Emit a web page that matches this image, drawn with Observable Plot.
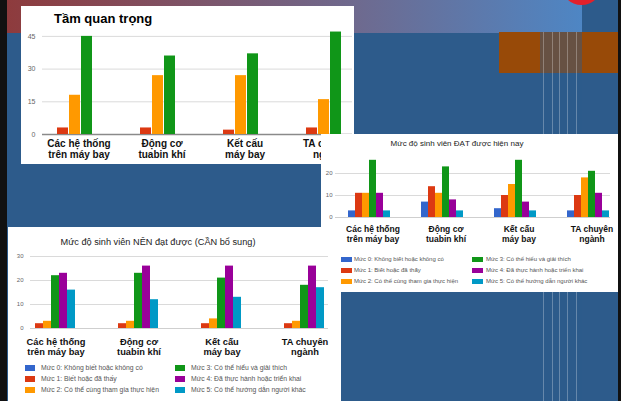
<!DOCTYPE html>
<html lang="vi">
<head>
<meta charset="utf-8">
<script src="https://cdn.jsdelivr.net/npm/d3@7"></script>
<script src="https://cdn.jsdelivr.net/npm/@observablehq/plot@0.6"></script>
<style>
  html,body{margin:0;padding:0}
  body{width:621px;height:401px;overflow:hidden;position:relative;background:#2d5b8b;font-family:Arial,"Liberation Sans",sans-serif}
  .abs{position:absolute}
  .panel{position:absolute;background:#fff;overflow:hidden}
  .panel svg{position:absolute;left:0;top:0}
  .title{position:absolute;white-space:nowrap;line-height:1}
  .legtxt{position:absolute;white-space:nowrap;color:#555;line-height:1;transform:translateY(-50%)}
  .sw{position:absolute}
</style>
</head>
<body>
<div class="abs" style="left:0;top:0;width:7px;height:401px;background:#111"></div>
<div class="abs" style="left:7px;top:0;width:575px;height:33px;background:linear-gradient(to right,#8e3b3d 0%,#6e6a8f 61%,#4e86c4 100%)"></div>
<div class="abs" style="left:499px;top:32px;width:122px;height:41px;background:#984a08"></div>
<div class="abs" style="left:540px;top:32px;width:42px;height:369px;background:rgba(45,91,139,0.45)"></div>
<div class="abs" style="left:543px;top:32px;width:1px;height:369px;background:rgba(255,255,255,0.28)"></div>
<div class="abs" style="left:552px;top:32px;width:1px;height:369px;background:rgba(255,255,255,0.28)"></div>
<div class="abs" style="left:559px;top:32px;width:1px;height:369px;background:rgba(255,255,255,0.28)"></div>
<div class="abs" style="left:567px;top:32px;width:1px;height:369px;background:rgba(255,255,255,0.28)"></div>
<div class="abs" style="left:576px;top:32px;width:1px;height:369px;background:rgba(255,255,255,0.28)"></div>
<div class="abs" style="left:561px;top:-36px;width:41px;height:41px;border-radius:50%;background:#e3212b"></div>
<div id="c1" class="panel" style="left:21px;top:6px;width:333px;height:158px"></div>
<div id="c2" class="panel" style="left:321px;top:134px;width:297px;height:158px"></div>
<div id="c3" class="panel" style="left:8px;top:227px;width:333px;height:174px"></div>
<div class="abs" style="left:618px;top:0;width:3px;height:401px;background:#111"></div>
<script>
// ---- data ----
const categories = ["Các hệ thống\ntrên máy bay", "Động cơ\ntuabin khí", "Kết cấu\nmáy bay", "TA chuyên\nngành"];
const levels = [
  "Mức 0: Không biết hoặc không có",
  "Mức 1: Biết hoặc đã thấy",
  "Mức 2: Có thể cùng tham gia thực hiện",
  "Mức 3: Có thể hiểu và giải thích",
  "Mức 4: Đã thực hành hoặc triển khai",
  "Mức 5: Có thể hướng dẫn người khác"
];
const levelColors = ["#3366cc", "#dc3912", "#ff9900", "#109618", "#990099", "#0099c6"];

// Chart 1: Tầm quan trọng (Mức 1, 2, 3)
const importanceTitle = "Tầm quan trọng";
const importanceLevel1 = [3, 3, 2, 3];
const importanceLevel2 = [18, 27, 27, 16];
const importanceLevel3 = [45, 36, 37, 47];
const importanceTicks = [0, 15, 30, 45];

// Chart 2: Mức độ sinh viên ĐẠT được hiện nay
const achievedTitle = "Mức độ sinh viên ĐẠT được hiện nay";
const achievedLevel0 = [3, 7, 4, 3];
const achievedLevel1 = [11, 14, 10, 10];
const achievedLevel2 = [11, 11, 15, 18];
const achievedLevel3 = [26, 23, 26, 21];
const achievedLevel4 = [11, 8, 7, 11];
const achievedLevel5 = [3, 3, 3, 3];
const achievedTicks = [0, 10, 20];

// Chart 3: Mức độ sinh viên NÊN đạt được (CẦN bổ sung)
const neededTitle = "Mức độ sinh viên NÊN đạt được (CẦN bổ sung)";
const neededLevel0 = [0, 0, 0, 0];
const neededLevel1 = [2, 2, 2, 2];
const neededLevel2 = [3, 3, 4, 3];
const neededLevel3 = [22, 23, 21, 18];
const neededLevel4 = [23, 26, 26, 26];
const neededLevel5 = [16, 12, 13, 17];
const neededTicks = [0, 10, 20, 30];

const FONT = "Arial, 'Liberation Sans', sans-serif";

function drawChart(id, o) {
  const panel = document.getElementById(id);
  const W = o.width, H = o.height;
  const grid = Plot.plot({
    width: W, height: H,
    marginTop: o.top, marginBottom: H - o.zero, marginLeft: o.gridLeft, marginRight: W - o.gridRight,
    y: {domain: o.yDomain},
    style: {background: "none", maxWidth: "none", fontFamily: FONT, color: "#666", overflow: "visible"},
    marks: [
      Plot.gridY(o.ticks, {stroke: "#dadada", strokeOpacity: 1}),
      Plot.axisY(o.ticks, {tickSize: 0, tickPadding: o.tickPad, fontSize: o.tickFont, label: null}),
      Plot.ruleY([0], {stroke: o.baseColor, strokeWidth: o.baseWidth})
    ]
  });
  panel.appendChild(grid);
  const names = o.levelIdx.map(i => levels[i]);
  const data = [];
  categories.forEach((c, i) => o.series.forEach((vals, k) => data.push({category: c, level: names[k], value: vals[i]})));
  const bars = Plot.plot({
    width: o.barsWidth, height: H,
    marginTop: o.top, marginBottom: H - o.zero, marginLeft: o.barsLeft, marginRight: 0,
    fx: {domain: categories, padding: 0},
    x: {domain: names, paddingInner: o.padIn, paddingOuter: o.padOut, axis: null},
    y: {domain: o.yDomain, axis: null},
    color: {domain: levels, range: levelColors},
    style: {background: "none", maxWidth: "none", fontFamily: FONT, color: "#111", overflow: "visible"},
    marks: [
      Plot.barY(data, {fx: "category", x: "level", y: "value", fill: "level"}),
      Plot.axisFx({anchor: "bottom", tickSize: 0, tickPadding: o.labelPad, fontSize: o.labelFont, fontWeight: "bold", fill: "#111", lineHeight: o.lineHeight, dx: o.labelDx, label: null})
    ]
  });
  panel.appendChild(bars);
  // title
  const t = document.createElement("div");
  t.className = "title";
  t.textContent = o.title;
  t.style.fontSize = o.titleFont + "px";
  t.style.fontWeight = o.titleWeight;
  t.style.color = o.titleColor;
  t.style.top = o.titleY + "px";
  t.style.left = o.titleX + "px";
  t.style.transform = o.titleCenter ? "translate(-50%,-50%)" : "translateY(-50%)";
  panel.appendChild(t);
  // legend
  if (o.legend) {
    const L = o.legend;
    levels.forEach((name, i) => {
      const col = Math.floor(i / 3), row = i % 3;
      const sw = document.createElement("div");
      sw.className = "sw";
      sw.style.left = L.swX[col] + "px";
      sw.style.top = (L.rowY[row] - L.swH / 2) + "px";
      sw.style.width = L.swW + "px";
      sw.style.height = L.swH + "px";
      sw.style.background = levelColors[i];
      panel.appendChild(sw);
      const tx = document.createElement("div");
      tx.className = "legtxt";
      tx.textContent = name;
      tx.style.left = L.txX[col] + "px";
      tx.style.top = L.rowY[row] + "px";
      tx.style.fontSize = L.font + "px";
      panel.appendChild(tx);
    });
  }
}

drawChart("c1", {
  width: 333, height: 158, top: 19, zero: 128, yDomain: [0, 50], ticks: importanceTicks,
  gridLeft: 21, gridRight: 331, tickPad: 7, tickFont: 7, baseColor: "#8a8a8a", baseWidth: 1.5,
  barsWidth: 345, barsLeft: 11, padIn: 0.08, padOut: 1.75,
  levelIdx: [1, 2, 3], series: [importanceLevel1, importanceLevel2, importanceLevel3],
  labelPad: 5, labelFont: 10, lineHeight: 1.1, labelDx: 4,
  title: importanceTitle, titleFont: 13, titleWeight: "bold", titleColor: "#000", titleX: 33, titleY: 12, titleCenter: false
});

drawChart("c2", {
  width: 297, height: 158, top: 17, zero: 83, yDomain: [0, 30], ticks: achievedTicks,
  gridLeft: 14, gridRight: 289, tickPad: 3, tickFont: 6, baseColor: "#cfcfcf", baseWidth: 1,
  barsWidth: 304, barsLeft: 9, padIn: 0.06, padOut: 2.0,
  levelIdx: [0, 1, 2, 3, 4, 5], series: [achievedLevel0, achievedLevel1, achievedLevel2, achievedLevel3, achievedLevel4, achievedLevel5],
  labelPad: 8, labelFont: 8.5, lineHeight: 1.15, labelDx: 4,
  title: achievedTitle, titleFont: 8, titleWeight: "normal", titleColor: "#222", titleX: 136, titleY: 10, titleCenter: true,
  legend: {swX: [20, 151], txX: [33, 165], rowY: [125, 136, 147], swW: 11, swH: 5, font: 6}
});

drawChart("c3", {
  width: 333, height: 174, top: 29, zero: 101, yDomain: [0, 30], ticks: neededTicks,
  gridLeft: 22, gridRight: 320, tickPad: 7, tickFont: 6, baseColor: "#cfcfcf", baseWidth: 1,
  barsWidth: 334, barsLeft: 0, padIn: 0.06, padOut: 2.06,
  levelIdx: [0, 1, 2, 3, 4, 5], series: [neededLevel0, neededLevel1, neededLevel2, neededLevel3, neededLevel4, neededLevel5],
  labelPad: 9, labelFont: 9.3, lineHeight: 1.1, labelDx: 5,
  title: neededTitle, titleFont: 9.2, titleWeight: "normal", titleColor: "#222", titleX: 150, titleY: 16, titleCenter: true,
  legend: {swX: [17, 167], txX: [33, 183], rowY: [141, 152, 163], swW: 10, swH: 6, font: 6.8}
});
</script>
</body>
</html>
